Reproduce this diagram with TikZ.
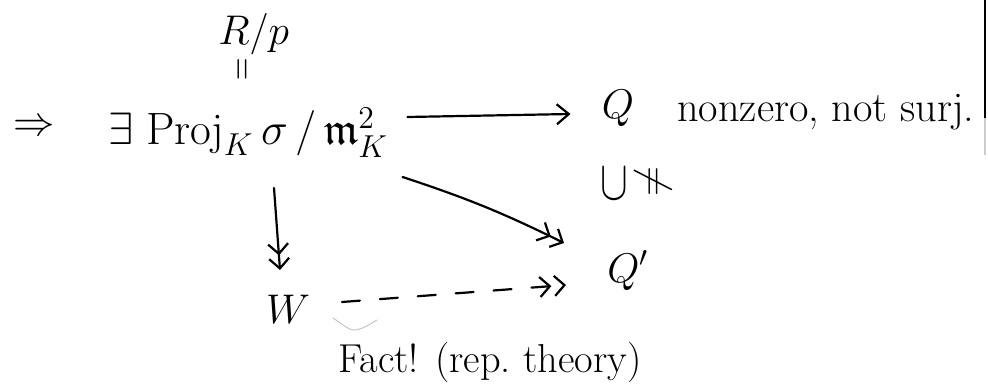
\RequirePackage{fix-cm}
\documentclass[tikz,border=0pt]{standalone}
\usepackage{fontspec}
\usepackage{amssymb}
\usetikzlibrary{arrows.meta,calc}
\newsavebox\mybox
\newlength\mylen
\begin{document}
% fit the widths of the long texts to the reference
\sbox\mybox{\fontsize{20}{24}\selectfont nonzero, not surj.}\setlength\mylen{\wd\mybox}
\pgfmathsetmacro\fsA{20*148.5/\mylen}
\sbox\mybox{\fontsize{20}{24}\selectfont Fact! (rep.\ theory)}\setlength\mylen{\wd\mybox}
\pgfmathsetmacro\fsB{20*151.5/\mylen}
\sbox\mybox{\fontsize{20}{24}\selectfont $\exists\;\mathrm{Proj}_K\,\sigma\,/\,\mathfrak{m}_K^2$}\setlength\mylen{\wd\mybox}
\pgfmathsetmacro\fsC{20*140/\mylen}
\begin{tikzpicture}[x=0.5pt,y=-0.5pt,
  txt/.style={inner sep=0pt, font=\fontsize{20.74}{24}\selectfont},
  pen/.style={line width=1.1pt, line cap=round},
  arr/.style={pen, -{Straight Barb[length=6pt,width=10pt]}},
  arrtwo/.style={pen, -{Straight Barb[length=5pt,width=10pt,sep=1pt]Straight Barb[length=5pt,width=10pt]}},
]
\useasboundingbox (0,0) rectangle (988,384);

% nodes
\node[txt] (impl) at (34,128) {$\Rightarrow$};
\node[inner sep=0pt, anchor=base west, font=\fontsize{\fsC}{\fsC}\selectfont] (top) at (108,145) {$\exists\;\mathrm{Proj}_K\,\sigma\,/\,\mathfrak{m}_K^2$};
\node[txt, anchor=base west] (rp) at (218,45) {$R/p$};
\node[txt, rotate=90, xscale=0.75] (eq) at (245,69) {$=$};
\node[txt, anchor=base] (Q) at (618,119) {$Q$};
\node[inner sep=0pt, anchor=base west, font=\fontsize{\fsA}{\fsA}\selectfont] (qlab) at (677,122) {nonzero, not surj.};
\node[txt] (sub) at (614,184) {\scalebox{1}[1.35]{$\cup$}};
\node[txt, rotate=90] (neq) at (653,182) {$\neq$};
\node[txt, anchor=base west] (Qp) at (607,282) {$Q'$};
\node[txt, anchor=base] (W) at (288,323) {$W$};
\node[inner sep=0pt, anchor=base west, font=\fontsize{\fsB}{\fsB}\selectfont] (fact) at (338,372) {Fact! (rep.\ theory)};

% connectors
\draw[arr] ($(top.base east)+(19,-28)$) -- ($(Q.base west)+(-31,-5)$);
\draw[arrtwo] ($(top.base east)+(14,32)$) to[bend left=4] ($(Qp.base west)+(-43,-39)$);
\draw[arrtwo] ($(top.base west)+(166,43)$) -- ($(W.base)+(-8,-53)$);
\draw[arrtwo, dash pattern=on 9pt off 10pt] ($(W.base)+(54,-21)$) -- ($(Qp.base west)+(-41,3)$);

% faint mark under the dashed arrow
\draw[gray!45, line width=0.5pt] (333,318) .. controls (345,326) and (350,331) .. (356,330) .. controls (363,329) and (370,324) .. (377,320);

% page edge
\draw[gray!40, line width=0.6pt] (985,115) -- (985,155);
\draw[line width=0.9pt] (985,0) -- (985,118);
\end{tikzpicture}
\end{document}
